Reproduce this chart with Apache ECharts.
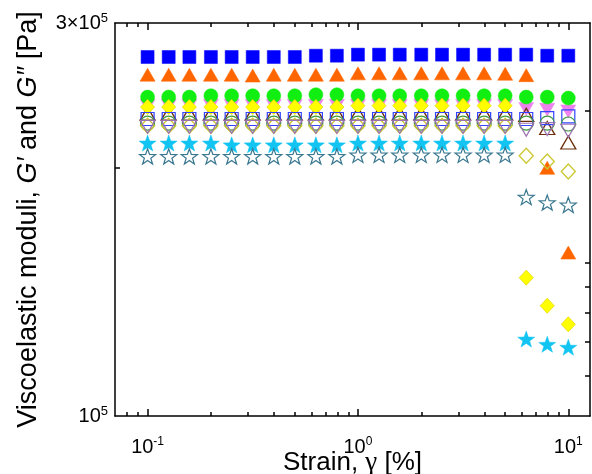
<!DOCTYPE html>
<html><head><meta charset="utf-8">
<script src="https://cdn.jsdelivr.net/npm/echarts@6/dist/echarts.min.js"></script>
<style>html,body{margin:0;padding:0;background:#fff}#c{width:592px;height:474px}</style>
</head><body><div id="c"></div>
<script>
// ---- data ----
const strain = [0.1,0.126,0.158,0.2,0.251,0.316,0.398,0.501,0.631,0.794,1,1.26,1.58,2,2.51,3.16,3.98,5.01,6.31,7.94,10];

const sqBlue      = [272800,272800,272800,272800,272800,272800,272800,272800,273800,273800,274600,274600,274600,274600,274600,274600,274600,274600,274600,273800,273800];
const triOrange   = [259600,259600,259600,259600,259600,259000,259600,259600,259600,259600,260600,260600,260600,260600,260600,260600,260600,260300,259300,200100,157900];
const dtriViolet  = [238000,238000,238000,238000,238000,238000,238000,238000,238000,238000,238000,238000,238000,238000,238000,238000,238000,238000,235900,235400,234300];
const circGreen   = [243900,243900,243900,244800,244800,244800,244800,244800,245500,245500,244800,244800,244800,244800,244800,244800,244800,244800,243900,243900,243200];
const triBrownO   = [232800,232800,232800,232800,232800,232800,232800,232800,232800,232800,232800,232800,232800,232800,232800,232800,232800,232800,232100,223700,214800];
const diamYellow  = [237200,237200,237200,237200,237200,237200,237200,237200,237200,237200,238100,238100,238100,238100,238100,238100,238100,238100,147200,136100,129200];
const sqBlueO     = [229400,229400,229400,229400,229400,229400,229400,229400,229400,229400,229400,229400,229400,229400,229400,229400,229400,229400,229400,230000,231100];
const circGreenO  = [226800,226800,226800,226800,226800,226800,226800,226800,226800,226800,226800,226800,226800,226800,226800,226800,226800,226800,226800,226800,226200];
const diamOliveO  = [225100,225100,225100,225100,225100,225100,225100,225100,225100,225100,225100,225100,225100,225100,225100,225100,225100,225100,207000,203700,198100];
const dtriPurpleO = [224400,224400,224400,224400,224400,224400,224400,224400,224400,224400,224400,224400,224400,224400,224400,224400,224400,224400,222600,223000,222000];
const starCyan    = [214500,214500,214500,214500,213400,213400,213400,213400,213400,213400,214500,214500,214500,214500,214500,214500,214500,214500,124000,122200,121200];
const starTealO   = [206600,206600,206600,206600,206600,206600,206600,206600,206600,206600,207500,207500,207500,207500,207500,207500,207500,207500,184400,181600,180400];

const xTickValues = [0.1, 1, 10];
const xTickLabels = ['10^-1', '10^0', '10^1'];
const xMinorTicks = [0.08,0.09,0.2,0.3,0.4,0.5,0.6,0.7,0.8,0.9,2,3,4,5,6,7,8,9];
const yTickValues = [100000, 300000];
const yTickLabels = ['10^5', '3×10^5'];
const yLeftTicks  = [200000];
const yRightTicks = [234800, 153400, 143400, 133400, 123000, 111800];

const xTitle = 'Strain, ';
const xTitleGreek = 'γ';
const xTitleEnd = ' [%]';

// ---- chart ----
const FONT = 'Liberation Sans, Arial, Helvetica, sans-serif';
const STAR = 'path://M0,-10L2.35,-3.24L9.51,-3.09L3.8,1.24L5.88,8.09L0,4L-5.88,8.09L-3.8,1.24L-9.51,-3.09L-2.35,-3.24Z';
const NONE = 'rgba(0,0,0,0)';

function sup(s) { const p = s.split('^'); return '{b|' + p[0] + '}{s|' + p[1] + '}'; }
function fmt(vals, labels) {
  return function (v) {
    const i = vals.findIndex(t => Math.abs(t - v) / t < 1e-6);
    return i < 0 ? '' : sup(labels[i]);
  };
}
const X_MIN = 0.07, X_MAX = 12.68, Y_MIN = 100000, Y_MAX = 300000;

function xAxisDef(pos, ticks, len, withLine, withLabel) {
  return {
    type: 'log', logBase: 10, min: X_MIN, max: X_MAX, position: pos,
    splitLine: { show: false }, minorTick: { show: false },
    axisLine: { show: withLine, onZero: false, lineStyle: { color: '#000', width: 1.5 } },
    axisTick: { show: true, inside: true, length: len, customValues: ticks, lineStyle: { color: '#000', width: 1.5 } },
    axisLabel: withLabel ? {
      show: true, customValues: xTickValues, margin: 20, formatter: fmt(xTickValues, xTickLabels),
      rich: {
        b: { fontFamily: FONT, fontSize: 20, color: '#000', lineHeight: 22 },
        s: { fontFamily: FONT, fontSize: 12, color: '#000', lineHeight: 14, verticalAlign: 'top' }
      }
    } : { show: false }
  };
}

const defs = [
  { d: sqBlue,      sym: 'rect',     size: [13, 13], fill: '#0000FF', stroke: '#0000FF', bw: 0.5 },
  { d: triOrange,   sym: 'triangle', size: [15, 13], fill: '#FF6600', stroke: '#FF6600', bw: 0.5 },
  { d: dtriViolet,  sym: 'triangle', size: [15, 13], fill: '#EE82EE', stroke: '#EE82EE', bw: 0.5, rot: 180 },
  { d: circGreen,   sym: 'circle',   size: 14,       fill: '#11EE11', stroke: '#11EE11', bw: 0.5 },
  { d: triBrownO,   sym: 'triangle', size: [15, 13], fill: NONE,      stroke: '#6B2E0A', bw: 1.3 },
  { d: diamYellow,  sym: 'diamond',  size: [14, 15], fill: '#FFFF00', stroke: '#E8D800', bw: 0.8 },
  { d: sqBlueO,     sym: 'rect',     size: [13, 13], fill: NONE,      stroke: '#3344FF', bw: 1.2 },
  { d: circGreenO,  sym: 'circle',   size: 14,       fill: NONE,      stroke: '#3C9A3C', bw: 1.2 },
  { d: diamOliveO,  sym: 'diamond',  size: [14, 15], fill: NONE,      stroke: '#CCC833', bw: 1.4 },
  { d: dtriPurpleO, sym: 'triangle', size: [15, 13], fill: NONE,      stroke: '#9B72B0', bw: 1.2, rot: 180 },
  { d: starCyan,    sym: STAR,       size: [17, 16], fill: '#11C4F2', stroke: '#11C4F2', bw: 0.5 },
  { d: starTealO,   sym: STAR,       size: [16, 15], fill: NONE,      stroke: '#3A7890', bw: 1.2 }
];

const chart = echarts.init(document.getElementById('c'), null, { renderer: 'canvas' });
chart.setOption({
  animation: false,
  backgroundColor: '#fff',
  grid: { left: 115, right: 2, top: 23, bottom: 58, containLabel: false, outerBoundsMode: 'none' },
  xAxis: [
    Object.assign(xAxisDef('bottom', xTickValues, 7, true, true), {
      name: '{n|' + xTitle + '}{g|' + xTitleGreek + '}{n|' + xTitleEnd + '}',
      nameLocation: 'middle', nameGap: 33, nameMoveOverlap: false,
      nameTextStyle: { rich: {
        n: { fontFamily: FONT, fontSize: 26, color: '#000' },
        g: { fontFamily: 'Liberation Serif, Times New Roman, serif', fontSize: 27, color: '#000' }
      } }
    }),
    xAxisDef('bottom', xMinorTicks, 4, false, false),
    xAxisDef('top', xTickValues, 7, true, false),
    xAxisDef('top', xMinorTicks, 4, false, false)
  ],
  yAxis: [
    {
      type: 'log', logBase: 10, min: Y_MIN, max: Y_MAX, position: 'left',
      splitLine: { show: false }, minorTick: { show: false },
      axisLine: { show: true, onZero: false, lineStyle: { color: '#000', width: 1.5 } },
      axisTick: { show: true, inside: true, length: 5, customValues: yLeftTicks, lineStyle: { color: '#000', width: 1.5 } },
      axisLabel: {
        show: true, customValues: yTickValues, margin: 7, formatter: fmt(yTickValues, yTickLabels),
        rich: {
          b: { fontFamily: FONT, fontSize: 20, color: '#000', lineHeight: 22 },
          s: { fontFamily: FONT, fontSize: 13, color: '#000', lineHeight: 14, verticalAlign: 'top' }
        }
      },
      name: '{n|Viscoelastic moduli, }{i|G′}{n| and }{i|G″}{n| [Pa]}',
      nameLocation: 'middle', nameGap: 73, nameMoveOverlap: false,
      nameTextStyle: { rich: {
        n: { fontFamily: FONT, fontSize: 27, color: '#000' },
        i: { fontFamily: FONT, fontSize: 27, color: '#000', fontStyle: 'italic' }
      } }
    },
    {
      type: 'log', logBase: 10, min: Y_MIN, max: Y_MAX, position: 'right',
      splitLine: { show: false }, minorTick: { show: false },
      axisLine: { show: true, onZero: false, lineStyle: { color: '#000', width: 1.5 } },
      axisTick: { show: true, inside: true, length: 5, customValues: yRightTicks, lineStyle: { color: '#000', width: 1.5 } },
      axisLabel: { show: false }
    }
  ],
  series: defs.map((s, k) => ({
    type: 'scatter', xAxisIndex: 0, yAxisIndex: 0, z: 2 + k * 0.01,
    data: strain.map((x, i) => [x, s.d[i]]),
    symbol: s.sym, symbolSize: s.size, symbolRotate: s.rot || 0,
    itemStyle: { color: s.fill, borderColor: s.stroke, borderWidth: s.bw, opacity: 1 },
    emphasis: { disabled: true }, silent: true
  }))
});
</script>
</body></html>
